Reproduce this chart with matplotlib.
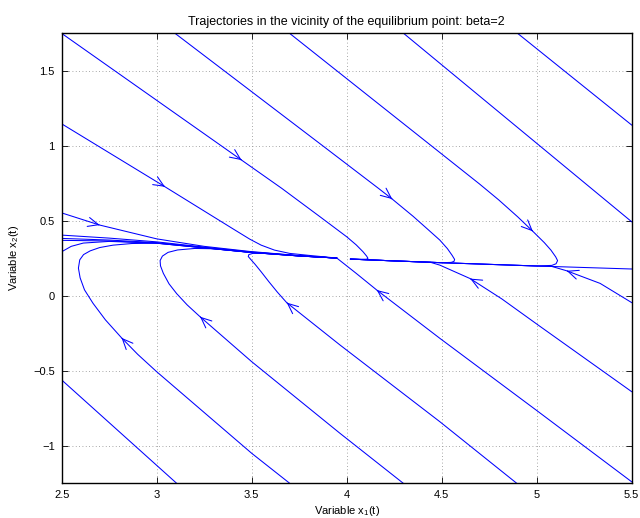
import numpy as np
import matplotlib
matplotlib.use('Agg')
import matplotlib.pyplot as plt

plt.rcParams['font.family'] = ['Liberation Sans', 'DejaVu Sans']
plt.rcParams['mathtext.fontset'] = 'custom'
plt.rcParams['mathtext.rm'] = 'Liberation Sans'

# trajectories, points in flow order (x1, x2)
u1 = [(2.5, 1.75), (3.447, 0.905), (3.658, 0.717), (3.86, 0.527), (4.0, 0.394),
      (4.05, 0.34), (4.086, 0.294), (4.105, 0.265), (4.112, 0.25), (4.104, 0.244), (4.06, 0.244),
      (4.02, 0.245)]
u2 = [(2.5, 1.147), (3.044, 0.727), (3.40, 0.448), (3.49, 0.378), (3.55, 0.338), (3.62, 0.305),
      (3.70, 0.283), (3.80, 0.27), (3.947, 0.252)]
u3 = [(2.5, 0.553), (2.7, 0.472), (3.0, 0.38), (3.25, 0.33), (3.49, 0.296), (3.75, 0.268),
      (3.947, 0.252)]
u4 = [(3.097, 1.75), (3.86, 1.014), (4.166, 0.718), (4.24, 0.645), (4.35, 0.53), (4.43, 0.44),
      (4.49, 0.372), (4.53, 0.315), (4.555, 0.27), (4.568, 0.243), (4.565, 0.23), (4.55, 0.223),
      (4.5, 0.221), (4.25, 0.233), (4.02, 0.245)]
u5 = [(3.70, 1.75), (4.70, 0.745), (4.80, 0.64), (4.90, 0.527), (4.98, 0.43), (5.04, 0.355),
      (5.075, 0.305), (5.1, 0.26), (5.11, 0.235), (5.102, 0.214), (5.08, 0.203), (5.0, 0.199),
      (4.75, 0.21), (4.5, 0.221), (4.25, 0.233), (4.02, 0.245)]
u6 = [(4.30, 1.75), (5.5, 0.494)]
u7 = [(4.90, 1.75), (5.5, 1.139)]

m1 = [(2.5, 0.405), (2.75, 0.385), (3.0, 0.36), (3.25, 0.325), (3.5, 0.292), (3.75, 0.268), (3.947, 0.252)]
m2 = [(2.5, 0.383), (2.75, 0.372), (3.0, 0.355), (3.25, 0.322), (3.5, 0.29), (3.75, 0.267), (3.947, 0.252)]
m3 = [(2.5, 0.37), (2.75, 0.366), (3.0, 0.352), (3.25, 0.321), (3.5, 0.289), (3.75, 0.266), (3.947, 0.252)]
m4 = [(2.5, 0.294), (2.55, 0.33), (2.614, 0.352), (2.75, 0.363), (3.0, 0.351), (3.25, 0.32),
      (3.5, 0.289), (3.75, 0.266), (3.947, 0.252)]
r1 = [(5.5, 0.179), (5.25, 0.189), (5.0, 0.199), (4.75, 0.21), (4.5, 0.221), (4.25, 0.233), (4.02, 0.245)]

l1 = [(3.105, -1.25), (2.5, -0.561)]
l2 = [(3.70, -1.25), (3.5, -1.05), (3.0, -0.506), (2.9, -0.39), (2.815, -0.28), (2.73, -0.16),
      (2.665, -0.05), (2.62, 0.04), (2.597, 0.12), (2.588, 0.185), (2.595, 0.24), (2.615, 0.275),
      (2.65, 0.30), (2.70, 0.322), (2.77, 0.338), (2.87, 0.349), (3.0, 0.351), (3.25, 0.32),
      (3.5, 0.289), (3.75, 0.266), (3.947, 0.252)]
l3 = [(4.298, -1.25), (3.965, -0.917), (3.5, -0.439), (3.228, -0.139), (3.16, -0.06), (3.105, 0.015),
      (3.065, 0.08), (3.035, 0.15), (3.02, 0.2), (3.018, 0.235), (3.03, 0.265), (3.06, 0.29),
      (3.11, 0.306), (3.2, 0.316), (3.3, 0.314), (3.5, 0.289), (3.75, 0.266), (3.947, 0.252)]
l4 = [(4.895, -1.25), (4.49, -0.839), (3.965, -0.328), (3.684, -0.045), (3.635, 0.025), (3.59, 0.095),
      (3.55, 0.16), (3.518, 0.21), (3.495, 0.243), (3.482, 0.262), (3.485, 0.275), (3.505, 0.283),
      (3.56, 0.286), (3.75, 0.266), (3.947, 0.252)]
l5 = [(5.5, -1.24), (5.008, -0.772), (4.49, -0.283), (4.158, 0.039), (4.05, 0.15), (3.95, 0.25)]
l6 = [(5.5, -0.639), (5.008, -0.195), (4.816, -0.02), (4.65, 0.115), (4.49, 0.205), (4.44, 0.224),
      (4.25, 0.233), (4.02, 0.245)]
l7 = [(5.5, -0.045), (5.334, 0.083), (5.158, 0.167), (5.08, 0.196), (5.0, 0.199), (4.75, 0.21),
      (4.5, 0.221), (4.25, 0.233), (4.02, 0.245)]

trajectories = [u1, u2, u3, u4, u5, u6, u7, m1, m2, m3, m4, r1, l1, l2, l3, l4, l5, l6, l7]
# (trajectory, index of the vertex that carries an arrow head)
arrows = [(u1, 1), (u2, 1), (u3, 1), (u4, 3), (u5, 4),
          (l2, 4), (l3, 3), (l4, 3), (l5, 3), (l6, 3), (l7, 2)]

xticks = [2.5, 3, 3.5, 4, 4.5, 5, 5.5]
xtick_labels = ['2.5', '3', '3.5', '4', '4.5', '5', '5.5']
yticks = [-1, -0.5, 0, 0.5, 1, 1.5]
ytick_labels = ['\u22121', '\u22120.5', '0', '0.5', '1', '1.5']

fig = plt.figure(figsize=(6.4, 5.18), dpi=100)
ax = fig.add_axes([0.0964, 0.067, 0.8906, 0.8685])

for tr in trajectories:
    p = np.array(tr)
    ax.plot(p[:, 0], p[:, 1], color='#0000ff', lw=0.75)

for tr, i in arrows:
    p = np.array(tr)
    d = p[min(i + 1, len(p) - 1)] - p[i - 1]
    d = d / np.hypot(d[0], d[1])
    tip = p[i]
    ax.annotate('', xy=tip, xytext=tip - 0.004 * d,
                arrowprops=dict(arrowstyle='->, head_length=0.5, head_width=0.22',
                                color='#0000ff', lw=0.75, shrinkA=0, shrinkB=0,
                                mutation_scale=15))

ax.set_xlim(2.5, 5.5)
ax.set_ylim(-1.25, 1.75)
ax.set_xticks(xticks)
ax.set_xticklabels(xtick_labels)
ax.set_yticks(yticks)
ax.set_yticklabels(ytick_labels)
ax.tick_params(direction='in', length=4, width=0.6, top=True, right=True, labelsize=8, pad=5)
ax.grid(True, linestyle=(0, (1, 3)), color='0.55', lw=0.6)
for s in ax.spines.values():
    s.set_linewidth(1.0)

ax.set_title('Trajectories in the vicinity of the equilibrium point: beta=2', fontsize=9, pad=6)
ax.set_xlabel('Variable x$_{\\mathregular{1}}$(t)', fontsize=8)
ax.set_ylabel('Variable x$_{\\mathregular{2}}$(t)', fontsize=8)
ax.xaxis.set_label_coords(0.5, -0.047)
ax.yaxis.set_label_coords(-0.072, 0.5)

fig.savefig('out.png', dpi=100)
